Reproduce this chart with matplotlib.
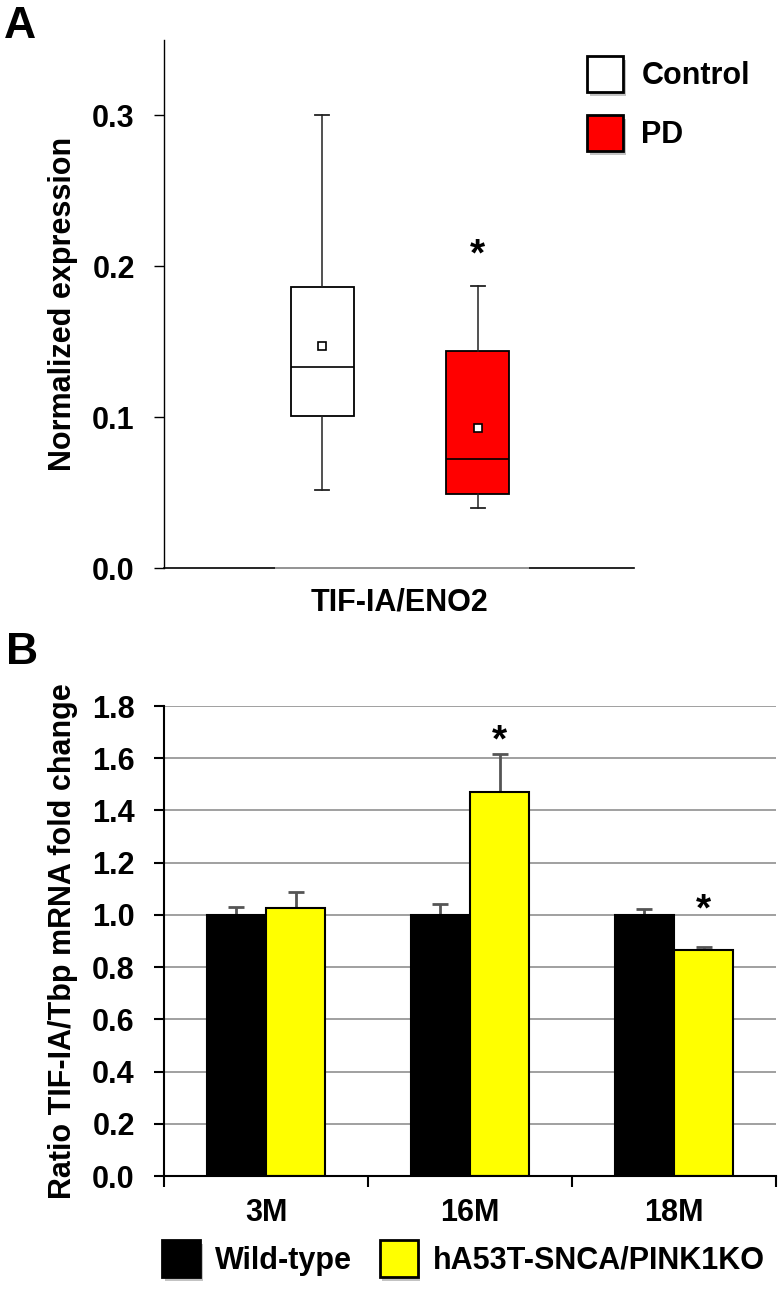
import numpy as np
import matplotlib
matplotlib.use("Agg")
import matplotlib.pyplot as plt
from matplotlib.patches import Patch
from matplotlib import patheffects as pe

plt.rcParams['font.family'] = ['Liberation Sans', 'DejaVu Sans']
plt.rcParams['font.weight'] = 'bold'

# ---- panel A data (box plot summary) ----
groups_a = ['Control', 'PD']
q1_a = [0.101, 0.049]
med_a = [0.133, 0.072]
q3_a = [0.186, 0.144]
whislo_a = [0.052, 0.040]
whishi_a = [0.300, 0.187]
mean_a = [0.147, 0.093]
colors_a = ['white', '#ff0000']
star_a = 0.207

# ---- panel B data ----
ages = ['3M', '16M', '18M']
wt = [1.0, 1.0, 1.0]
wt_err = [0.032, 0.040, 0.024]
mut = [1.027, 1.470, 0.864]
mut_err = [0.060, 0.145, 0.013]
stars_b = [(1, 1.665), (2, 1.015)]

fs = 22

fig = plt.figure(figsize=(7.83, 12.92), dpi=100)

# ================= Panel A =================
axa = fig.add_axes([164/783, 1-568/1292, 470/783, 528/1292])
pos_a = [0.337, 0.668]
stats = []
for i in range(2):
    stats.append(dict(med=med_a[i], q1=q1_a[i], q3=q3_a[i],
                      whislo=whislo_a[i], whishi=whishi_a[i], mean=mean_a[i],
                      fliers=[], label=groups_a[i]))
bp = axa.bxp(stats, positions=pos_a, widths=0.134, patch_artist=True,
             showmeans=True, showfliers=False, capwidths=0.03,
             boxprops=dict(edgecolor='black', linewidth=1.3),
             medianprops=dict(color='black', linewidth=1.2),
             whiskerprops=dict(color='#222222', linewidth=1.1),
             capprops=dict(color='#222222', linewidth=1.3),
             meanprops=dict(marker='s', markerfacecolor='white',
                            markeredgecolor='black', markersize=6,
                            markeredgewidth=1.2))
for box, c in zip(bp['boxes'], colors_a):
    box.set_facecolor(c)

axa.text(pos_a[1], star_a, '*', ha='center', va='center', fontsize=28,
         fontweight='bold')

axa.set_xlim(0, 1)
axa.set_ylim(0, 0.35)
axa.set_yticks([0.0, 0.1, 0.2, 0.3])
axa.set_yticklabels(['0.0', '0.1', '0.2', '0.3'])
axa.set_xticks([])
axa.tick_params(axis='y', direction='out', length=7, width=1, pad=14,
                labelsize=fs)
for s in ['top', 'right']:
    axa.spines[s].set_visible(False)
axa.spines['left'].set_linewidth(1)
axa.spines['bottom'].set_linewidth(1.2)
axa.axhline(0, xmin=0.238, xmax=0.774, color='#999999', linewidth=1.4,
            clip_on=False, zorder=3)
axa.set_ylabel('Normalized expression', fontsize=fs, fontweight='bold',
               labelpad=10)
axa.set_xlabel('TIF-IA/ENO2', fontsize=fs, fontweight='bold', labelpad=14)

handles_a = [Patch(facecolor=c, edgecolor='black', linewidth=2) for c in colors_a]
lega = fig.legend(handles_a, groups_a, loc='upper left',
                  bbox_to_anchor=(587/783, 1-56/1292), frameon=False,
                  borderpad=0, borderaxespad=0, handlelength=1.18,
                  handleheight=1.44, handletextpad=0.6, labelspacing=0.75,
                  prop=dict(size=fs, weight='bold'))
for p in lega.get_patches():
    p.set_path_effects([pe.SimplePatchShadow(offset=(2, -3),
                                             shadow_rgbFace='#888888',
                                             alpha=0.5), pe.Normal()])

fig.text(4/783, 1-6/1292, 'A', fontsize=32, fontweight='bold',
         ha='left', va='top')

# ================= Panel B =================
axb = fig.add_axes([164/783, 1-1176/1292, 612/783, 470/1292])
x = np.arange(len(ages))
w = 0.29
axb.bar(x - w/2, wt, w, color='black', edgecolor='black', linewidth=1.5,
        zorder=2)
axb.bar(x + w/2, mut, w, color='#ffff00', edgecolor='black', linewidth=1.5,
        zorder=2)
axb.errorbar(x - w/2, wt, yerr=[np.zeros(3), wt_err], fmt='none',
             ecolor='#555555', elinewidth=2, capsize=6, capthick=2, zorder=1)
axb.errorbar(x + w/2, mut, yerr=[np.zeros(3), mut_err], fmt='none',
             ecolor='#555555', elinewidth=2, capsize=6, capthick=2, zorder=1)
for xi, yi in stars_b:
    axb.text(xi + w/2, yi, '*', ha='center', va='center', fontsize=28,
             fontweight='bold')

axb.set_xlim(-0.5, 2.5)
axb.set_ylim(0, 1.8)
axb.set_yticks(np.arange(0, 1.81, 0.2))
axb.set_yticklabels(['%.1f' % v for v in np.arange(0, 1.81, 0.2)])
axb.yaxis.grid(True, color='#a0a0a0', linewidth=1.4)
axb.set_axisbelow(True)
axb.set_xticks([-0.5, 0.5, 1.5, 2.5])
axb.set_xticklabels([])
axb.set_xticks(x, minor=True)
axb.set_xticklabels(ages, minor=True)
axb.tick_params(axis='x', which='major', direction='out', length=8, width=1.5)
axb.tick_params(axis='x', which='minor', length=0, pad=16, labelsize=fs)
axb.tick_params(axis='y', direction='out', length=7, width=1.5, pad=14,
                labelsize=fs)
for s in ['top', 'right']:
    axb.spines[s].set_visible(False)
axb.spines['left'].set_linewidth(1.5)
axb.spines['bottom'].set_linewidth(1.5)
axb.set_ylabel('Ratio TIF-IA/Tbp mRNA fold change', fontsize=fs,
               fontweight='bold', labelpad=10)

handles_b = [Patch(facecolor='black', edgecolor='black', linewidth=2),
             Patch(facecolor='#ffff00', edgecolor='black', linewidth=2)]
legb = fig.legend(handles_b, ['Wild-type', 'hA53T-SNCA/PINK1KO'],
                  loc='upper left', bbox_to_anchor=(162/783, 1-1240/1292),
                  ncol=2, frameon=False, borderpad=0, borderaxespad=0,
                  handlelength=1.24, handleheight=1.49, handletextpad=0.5,
                  columnspacing=0.9, prop=dict(size=fs, weight='bold'))
for p in legb.get_patches():
    p.set_path_effects([pe.SimplePatchShadow(offset=(2, -3),
                                             shadow_rgbFace='#888888',
                                             alpha=0.5), pe.Normal()])

fig.text(6/783, 1-632/1292, 'B', fontsize=32, fontweight='bold',
         ha='left', va='top')

fig.savefig('out.png', dpi=100)
